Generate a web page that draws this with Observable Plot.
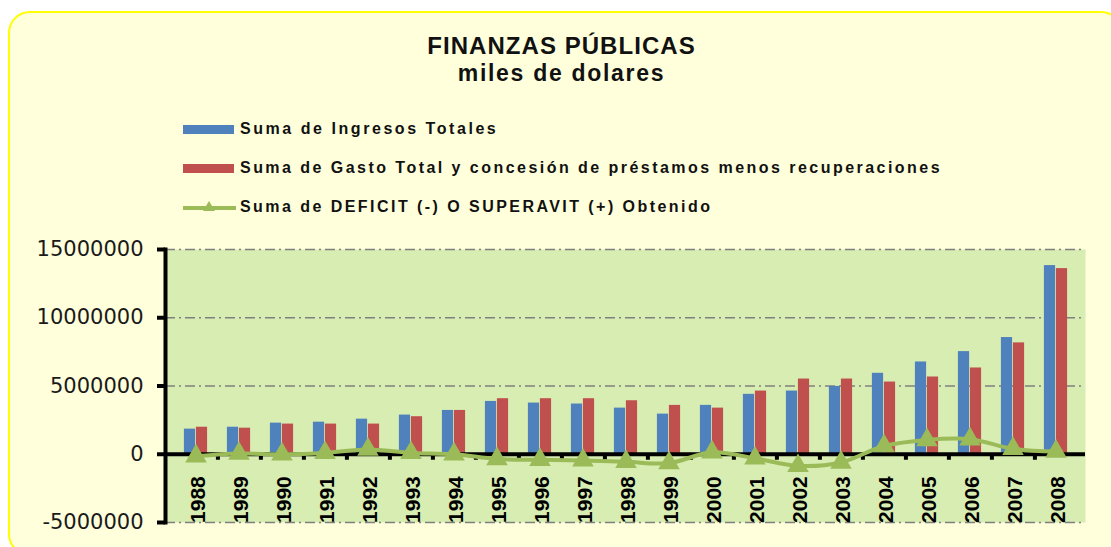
<!DOCTYPE html>
<html>
<head>
<meta charset="utf-8">
<script src="https://cdn.jsdelivr.net/npm/d3@7"></script>
<script src="https://cdn.jsdelivr.net/npm/@observablehq/plot@0.6"></script>
<style>
  html, body { margin: 0; padding: 0; background: #ffffff; width: 1111px; height: 547px; overflow: hidden; }
  #panel { position: absolute; left: 8px; top: 11px; width: 1115px; height: 545px; box-sizing: border-box;
           background: #FFFFDC; border: 2px solid #FFFF00; border-radius: 22px; }
  .title { position: absolute; left: 6px; width: 1111px; text-align: center; font-family: "Liberation Sans", Arial, sans-serif;
           font-weight: bold; color: #111; }
  .leg { position: absolute; left: 183px; height: 20px; display: flex; align-items: center;
         font-family: "Liberation Sans", Arial, sans-serif; font-weight: bold; font-size: 16px; color: #111; }
  .sw { width: 51px; height: 9px; margin-right: 6px; }
  #chart { position: absolute; left: 0; top: 230px; }
</style>
</head>
<body>
<div id="panel"></div>
<div class="title" id="t1" style="top:32px;font-size:24px;letter-spacing:1.05px;"></div>
<div class="title" id="t2" style="top:60px;font-size:23px;letter-spacing:1.7px;"></div>
<div id="legend"></div>
<div id="chart"></div>
<script>
// ---- data ----
const years = ["1988","1989","1990","1991","1992","1993","1994","1995","1996","1997","1998","1999","2000","2001","2002","2003","2004","2005","2006","2007","2008"];
const ingresos = [1840000,1980000,2280000,2350000,2570000,2870000,3210000,3870000,3750000,3680000,3380000,2940000,3580000,4390000,4630000,4970000,5930000,6760000,7520000,8550000,13820000];
const gasto = [1980000,1910000,2210000,2210000,2210000,2750000,3210000,4070000,4070000,4070000,3920000,3580000,3380000,4630000,5510000,5510000,5290000,5660000,6320000,8160000,13600000];
const deficit = [-150000,50000,0,100000,350000,100000,0,-350000,-400000,-450000,-550000,-650000,150000,-300000,-850000,-600000,600000,1050000,1100000,400000,200000];
const yTicks = [-5000000,0,5000000,10000000,15000000];
const seriesNames = ["Suma de Ingresos Totales","Suma de Gasto Total y concesión de préstamos menos recuperaciones","Suma de DEFICIT (-) O SUPERAVIT (+) Obtenido"];
const titleText = "FINANZAS PÚBLICAS";
const subtitleText = "miles de dolares";
const colors = ["#4F81BD","#C0504D","#9BBB59"];

document.getElementById("t1").textContent = titleText;
document.getElementById("t2").textContent = subtitleText;

// legend
const legend = document.getElementById("legend");
const legTops = [119, 158, 197];
const legSpacing = ["2.55px","2.46px","2.45px"];
seriesNames.forEach((name, i) => {
  const row = document.createElement("div");
  row.className = "leg";
  row.style.top = legTops[i] + "px";
  let sw;
  if (i < 2) {
    sw = `<div class="sw" style="background:${colors[i]}"></div>`;
  } else {
    sw = `<svg width="57" height="14" style="margin-right:0px"><line x1="0" x2="53" y1="8" y2="8" stroke="${colors[2]}" stroke-width="4"/><path d="M26,1 L32,11 L20,11 Z" fill="${colors[2]}"/></svg>`;
  }
  row.innerHTML = sw + `<span style="letter-spacing:${legSpacing[i]}">${name}</span>`;
  legend.appendChild(row);
});

const rows = years.map((y, i) => ({year: y, ingresos: ingresos[i], gasto: gasto[i], deficit: deficit[i]}));

const W = 1111, ML = 165, MR = 26;
const bw = (W - ML - MR) / years.length;
const barW = 12;

const plot = Plot.plot({
  width: W,
  height: 317,
  marginLeft: ML,
  marginRight: MR,
  marginTop: 19,
  marginBottom: 25,
  style: {background: "transparent", fontFamily: "DejaVu Sans, sans-serif", overflow: "visible"},
  x: {domain: years, padding: 0, axis: null},
  y: {domain: [-5000000, 15000000], axis: null},
  marks: [
    Plot.frame({fill: "#D8EDB2", stroke: null}),
    Plot.gridY(yTicks, {stroke: "#808080", strokeOpacity: 1, strokeWidth: 1.5, strokeDasharray: "10,4,2,4"}),
    Plot.barY(rows, {x: "year", y: "ingresos", fill: colors[0], insetLeft: bw/2 - barW, insetRight: bw/2}),
    Plot.barY(rows, {x: "year", y: "gasto", fill: colors[1], insetLeft: bw/2, insetRight: bw/2 - barW}),
    Plot.ruleY([0], {stroke: "#000", strokeWidth: 4}),
    Plot.ruleX(years.slice(0, -1), {x: d => d, y1: () => 0, y2: () => 0, insetBottom: -6, dx: bw/2, stroke: "#000", strokeWidth: 4}),
    Plot.axisY(yTicks, {tickSize: 8, tickPadding: 14, strokeWidth: 4, stroke: "#000", fontSize: 21, fill: "#1a1a1a", tickFormat: d => String(d)}),
    Plot.frame({anchor: "left", stroke: "#000", strokeWidth: 4}),
    Plot.line(rows, {x: "year", y: "deficit", stroke: colors[2], strokeWidth: 4, curve: "catmull-rom"}),
    Plot.dot(rows, {x: "year", y: "deficit", symbol: "triangle", r: 8, fill: colors[2], stroke: null}),
    Plot.text(years, {x: d => d, y: () => 0, text: d => d, rotate: -90, textAnchor: "end", dy: 22, dx: 2,
      fontSize: 21, fontWeight: "bold", fontFamily: "Liberation Sans, Arial, sans-serif", fill: "#000"})
  ]
});
document.getElementById("chart").appendChild(plot);
</script>
</body>
</html>
